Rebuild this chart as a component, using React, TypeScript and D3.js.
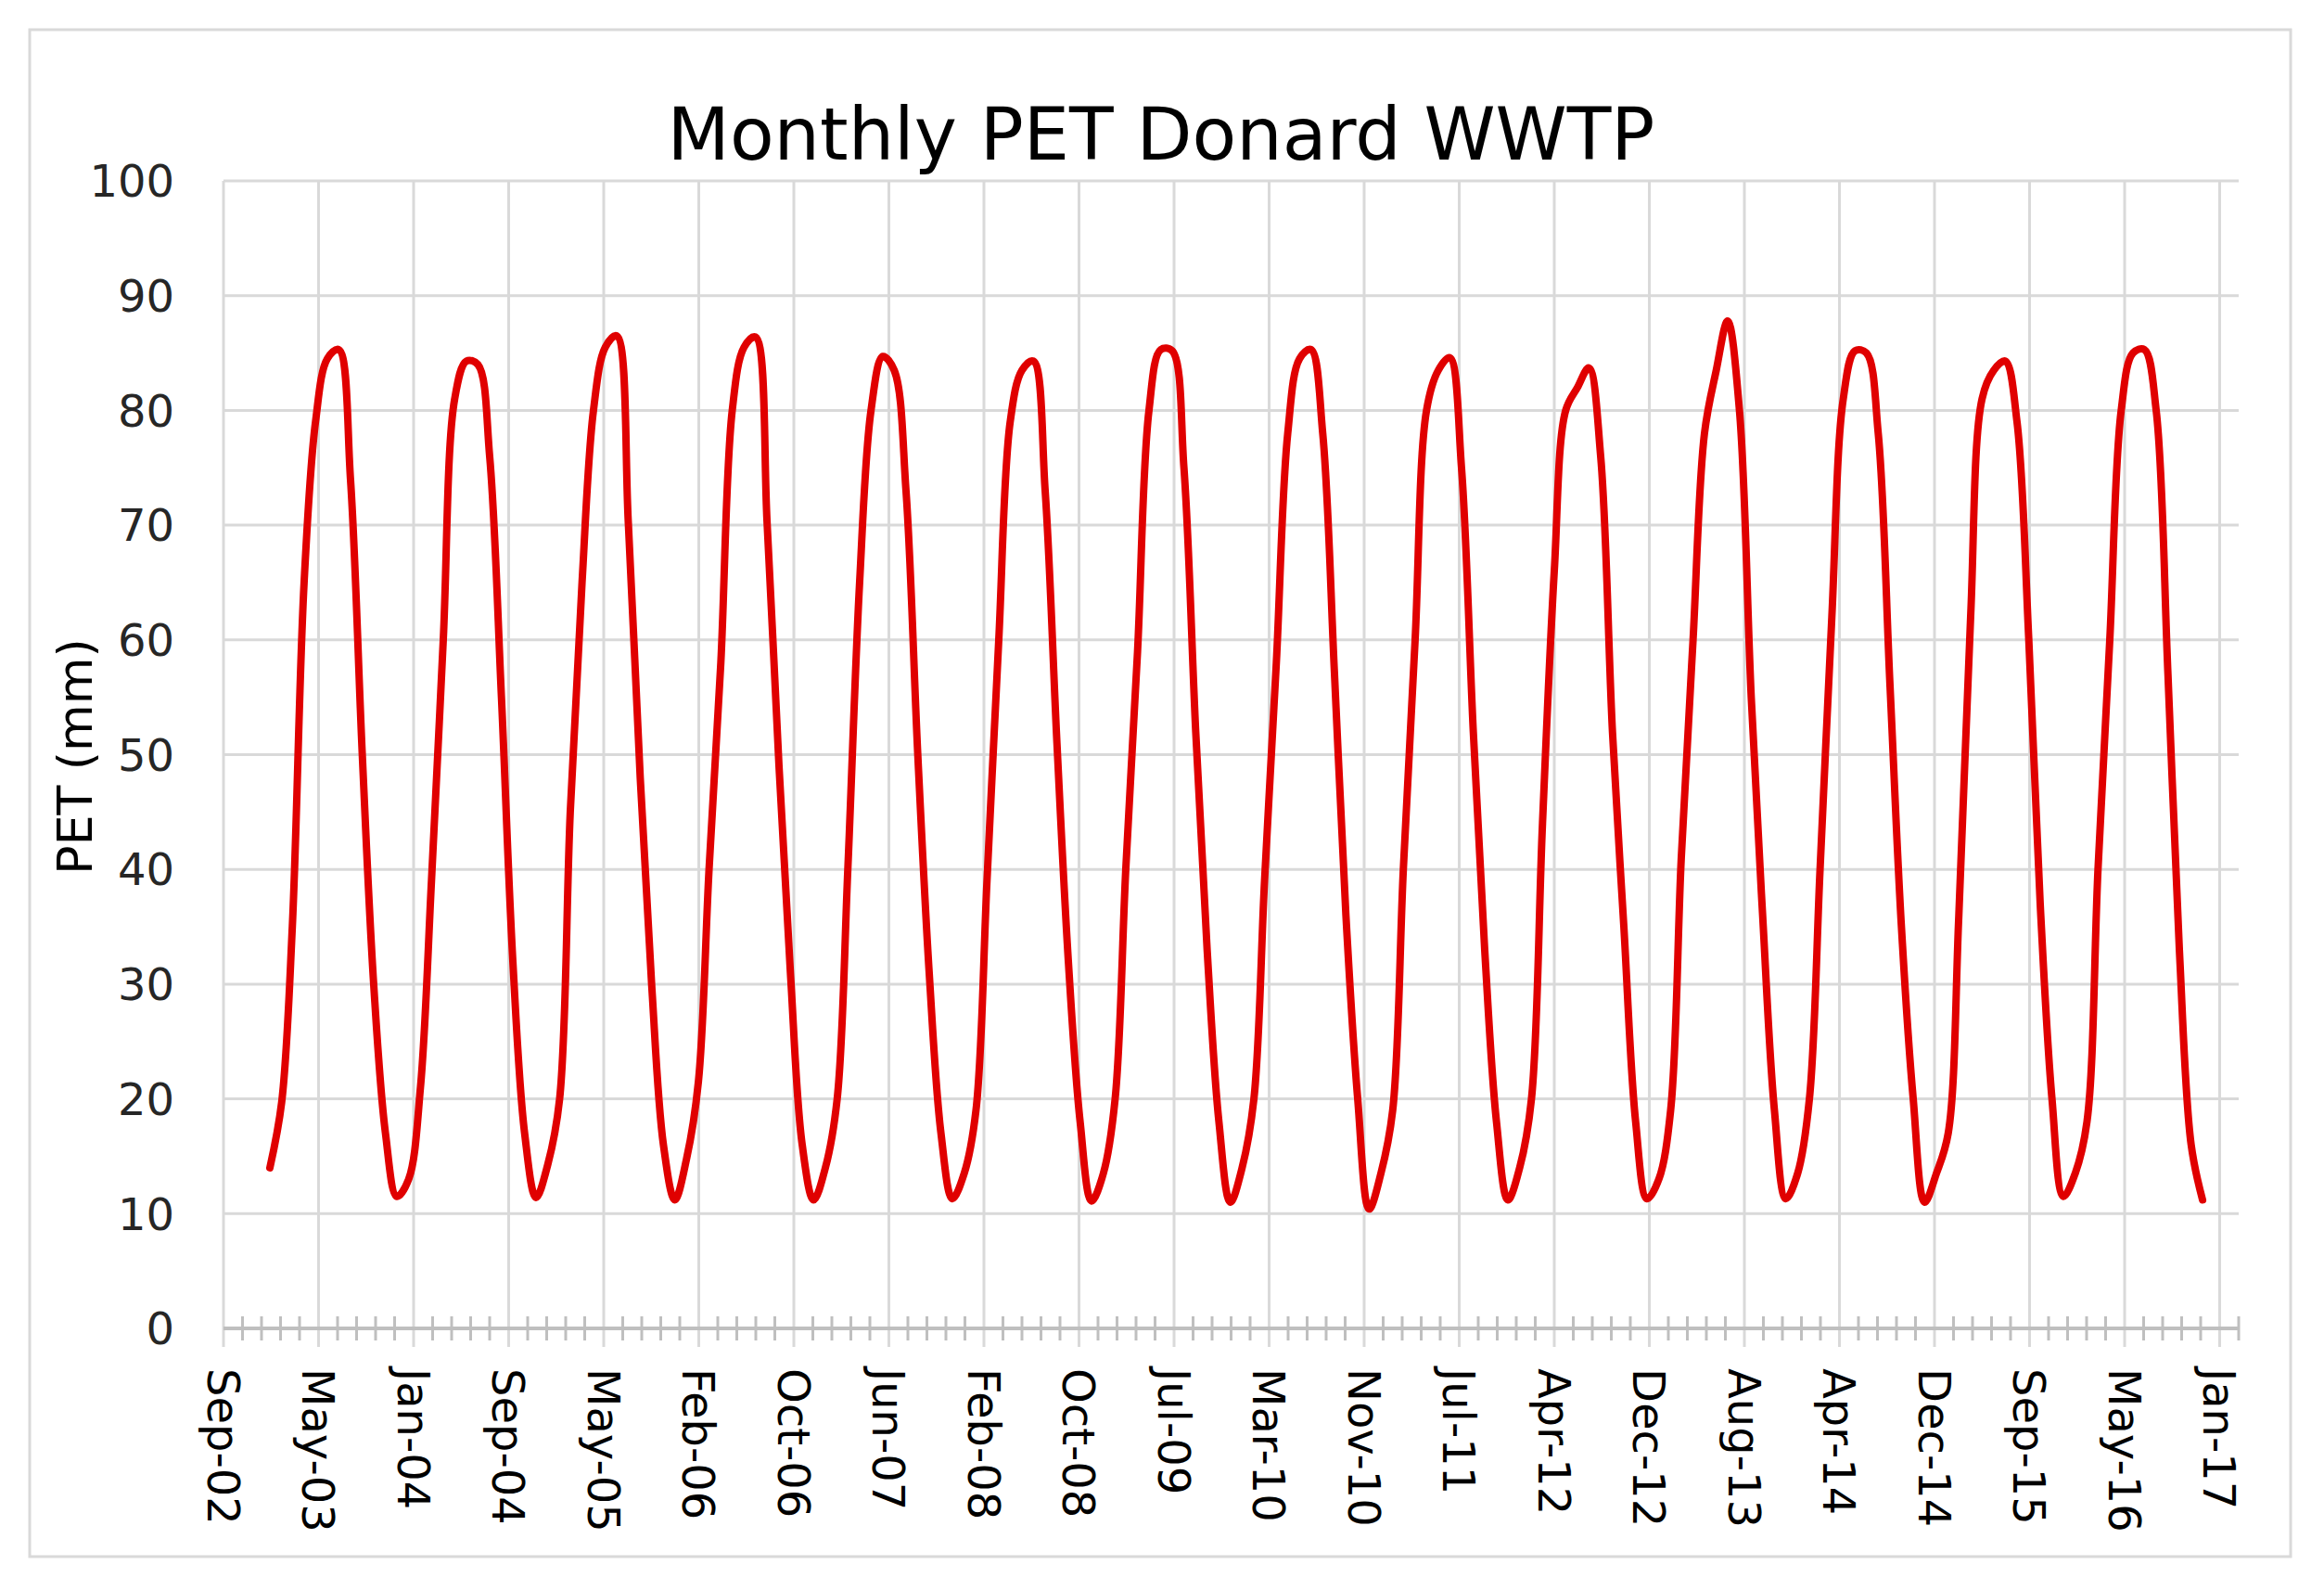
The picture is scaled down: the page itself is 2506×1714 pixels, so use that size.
import React, { useEffect, useRef } from "react";
import * as d3 from "d3";

const chartTitle = "Monthly PET Donard WWTP";
const yAxisTitle = "PET (mm)";

// x axis labels, one every 250 days from the first one
const tickLabels = [
  "Sep-02", "May-03", "Jan-04", "Sep-04", "May-05", "Feb-06", "Oct-06", "Jun-07",
  "Feb-08", "Oct-08", "Jul-09", "Mar-10", "Nov-10", "Jul-11", "Apr-12", "Dec-12",
  "Aug-13", "Apr-14", "Dec-14", "Sep-15", "May-16", "Jan-17",
];
const yTicks = [0, 10, 20, 30, 40, 50, 60, 70, 80, 90, 100];

// monthly PET (mm), Jan..Dec
const years = [2003, 2004, 2005, 2006, 2007, 2008, 2009, 2010, 2011, 2012, 2013, 2014, 2015, 2016];
const pet2003 = [14.0, 19.7, 35, 65, 79, 84.5, 85.3, 74, 50, 30, 17, 11.5];
const pet2004 = [13, 21, 39, 60, 81, 84.3, 84, 76, 55, 32, 17, 11.4];
const pet2005 = [14.3, 20, 45, 65, 80, 85.5, 86.5, 70, 48, 30, 16, 11.2];
const pet2006 = [14.8, 21.5, 40, 58, 80, 85.5, 86.4, 70, 49, 31, 16, 11.2];
const pet2007 = [14, 20, 40, 65, 80, 84.7, 83.5, 73, 50, 31, 17, 11.3];
const pet2008 = [13.5, 19, 39, 60, 79, 83.5, 84.3, 73, 51, 32, 18, 11.1];
const pet2009 = [13.5, 20, 40, 59, 80, 85.3, 85.2, 75, 52, 33, 18, 11];
const pet2010 = [14, 20, 39, 58, 78, 84.5, 85.3, 78, 57, 36, 20, 10.4];
const pet2011 = [13.5, 19, 40, 60, 80, 83.5, 84.6, 75, 52, 33, 18, 11.2];
const pet2012 = [14, 20, 44, 66, 80, 82, 83.7, 76, 52, 35, 18, 11.3];
const pet2013 = [13, 19, 41, 60, 78, 83.5, 87.8, 80, 55, 36, 19, 11.3];
const pet2014 = [13.5, 20, 40, 62, 81, 85.2, 85, 78, 56, 35, 20, 11];
const pet2015 = [13.5, 17, 36, 62, 81, 83.5, 84.3, 79, 60, 37, 20, 11.5];
const pet2016 = [13.5, 18, 40, 60, 80, 85, 85.3, 80, 57, 33, 16, 11.2];
const petByYear = [
  pet2003, pet2004, pet2005, pet2006, pet2007, pet2008, pet2009,
  pet2010, pet2011, pet2012, pet2013, pet2014, pet2015, pet2016,
];

const axisStart = new Date(2002, 8, 1);
const axisSpanDays = 5300;
const majorStepDays = 250;
const minorStepDays = 50;

export default function App() {
  const svgRef = useRef(null);

  useEffect(() => {
    const width = 2506;
    const height = 1714;
    const left = 241;
    const right = 2414;
    const top = 195;
    const bottom = 1432;
    const font = "'DejaVu Sans', sans-serif";
    const gridColor = "#d9d9d9";
    const axisColor = "#bfbfbf";

    const svg = d3.select(svgRef.current).attr("width", width).attr("height", height);
    svg.selectAll("*").remove();

    svg.append("rect").attr("width", width).attr("height", height).attr("fill", "#fff");
    svg
      .append("rect")
      .attr("x", 32)
      .attr("y", 32)
      .attr("width", 2438)
      .attr("height", 1646)
      .attr("fill", "none")
      .attr("stroke", gridColor)
      .attr("stroke-width", 3);

    const data = petByYear.flatMap((vals, yi) =>
      vals.map((v, m) => ({ date: new Date(years[yi], m, 1), value: v }))
    );

    const xScale = d3
      .scaleTime()
      .domain([axisStart, d3.timeDay.offset(axisStart, axisSpanDays)])
      .range([left, right]);
    const yScale = d3.scaleLinear().domain([0, 100]).range([bottom, top]);

    const majorDates = tickLabels.map((_, i) => d3.timeDay.offset(axisStart, i * majorStepDays));
    const minorDates = d3
      .range(0, axisSpanDays + 1, minorStepDays)
      .filter((d) => d % majorStepDays !== 0)
      .map((d) => d3.timeDay.offset(axisStart, d));

    // horizontal grid
    svg
      .append("g")
      .selectAll("line")
      .data(yTicks.filter((t) => t > 0))
      .enter()
      .append("line")
      .attr("x1", left)
      .attr("x2", right)
      .attr("y1", (d) => yScale(d))
      .attr("y2", (d) => yScale(d))
      .attr("stroke", gridColor)
      .attr("stroke-width", 3);

    // vertical grid + major ticks
    svg
      .append("g")
      .selectAll("line")
      .data(majorDates)
      .enter()
      .append("line")
      .attr("x1", (d) => xScale(d))
      .attr("x2", (d) => xScale(d))
      .attr("y1", top)
      .attr("y2", bottom + 20)
      .attr("stroke", gridColor)
      .attr("stroke-width", 3);

    // minor ticks (cross)
    svg
      .append("g")
      .selectAll("line")
      .data(minorDates)
      .enter()
      .append("line")
      .attr("x1", (d) => xScale(d))
      .attr("x2", (d) => xScale(d))
      .attr("y1", bottom - 13)
      .attr("y2", bottom + 13)
      .attr("stroke", axisColor)
      .attr("stroke-width", 3);

    svg
      .append("line")
      .attr("x1", left)
      .attr("x2", right)
      .attr("y1", bottom)
      .attr("y2", bottom)
      .attr("stroke", axisColor)
      .attr("stroke-width", 4);

    const line = d3
      .line<{ date: Date; value: number }>()
      .x((d) => xScale(d.date))
      .y((d) => yScale(d.value))
      .curve(d3.curveCatmullRom.alpha(0.5));

    svg
      .append("path")
      .datum(data)
      .attr("d", line)
      .attr("fill", "none")
      .attr("stroke", "#e00000")
      .attr("stroke-width", 8)
      .attr("stroke-linejoin", "round")
      .attr("stroke-linecap", "round");

    // y tick labels
    svg
      .append("g")
      .selectAll("text")
      .data(yTicks)
      .enter()
      .append("text")
      .attr("x", 188)
      .attr("y", (d) => yScale(d))
      .attr("dy", "0.36em")
      .attr("text-anchor", "end")
      .attr("font-family", font)
      .attr("font-size", 48)
      .attr("fill", "#262626")
      .text((d) => d);

    // x tick labels, rotated
    svg
      .append("g")
      .selectAll("text")
      .data(majorDates)
      .enter()
      .append("text")
      .attr("transform", (d) => `translate(${xScale(d)}, ${bottom + 43}) rotate(90)`)
      .attr("dy", "0.36em")
      .attr("text-anchor", "start")
      .attr("font-family", font)
      .attr("font-size", 48)
      .attr("fill", "#000")
      .text((_, i) => tickLabels[i]);

    svg
      .append("text")
      .attr("transform", `translate(80, ${(top + bottom) / 2 + 2}) rotate(-90)`)
      .attr("dy", "0.36em")
      .attr("text-anchor", "middle")
      .attr("font-family", font)
      .attr("font-size", 52)
      .attr("fill", "#000")
      .text(yAxisTitle);

    svg
      .append("text")
      .attr("x", 1252)
      .attr("y", 172)
      .attr("text-anchor", "middle")
      .attr("font-family", font)
      .attr("font-size", 78)
      .attr("fill", "#000")
      .text(chartTitle);
  }, []);

  return (
    <div style={{ position: "absolute", left: 0, top: 0 }}>
      <svg ref={svgRef} />
    </div>
  );
}
